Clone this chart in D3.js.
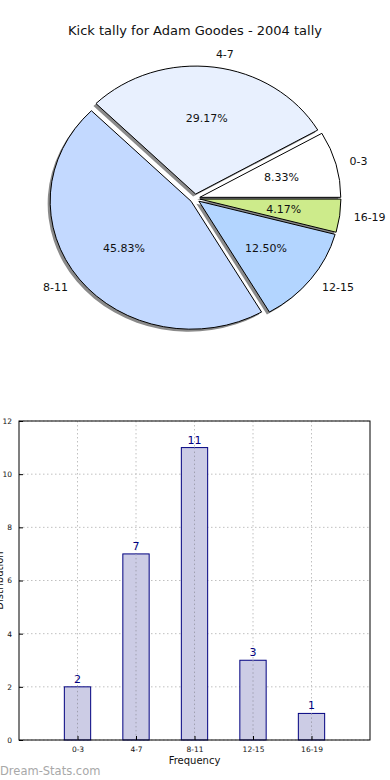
<!DOCTYPE html>
<html>
<head>
<meta charset="utf-8">
<script src="https://cdn.jsdelivr.net/npm/d3@7"></script>
<style>
  body { margin: 0; background: #fff; }
  svg { display: block; font-family: "DejaVu Sans", sans-serif; }
  .grid { stroke: #c0c0c0; stroke-dasharray: 1.5,2.5; stroke-width: 1; }
</style>
</head>
<body>
<svg id="chart" width="390" height="780"></svg>
<script>
// data
const categories = ["0-3", "4-7", "8-11", "12-15", "16-19"];
const counts = [2, 7, 11, 3, 1];
const pctLabels = ["8.33%", "29.17%", "45.83%", "12.50%", "4.17%"];
const sliceColors = ["#ffffff", "#e8f0fe", "#c3d9ff", "#b3d5ff", "#cdeb8b"];
const yTicks = [0, 2, 4, 6, 8, 10, 12];

let svg = d3.select("#chart");

svg.append("text")
  .attr("x", 195).attr("y", 35)
  .attr("text-anchor", "middle")
  .attr("font-size", 13)
  .attr("fill", "#111")
  .text("Kick tally for Adam Goodes - 2004 tally");

// ---- pie (matplotlib style: starts at 3 o'clock, goes counter clockwise)
const cx = 195, cy = 198.5, rx = 141, ry = 128, explode = 0.035;

let pie = d3.pie().sort(null)
  .startAngle(Math.PI / 2)
  .endAngle(Math.PI / 2 - 2 * Math.PI);
let arcs = pie(counts);
let arc = d3.arc().innerRadius(0).outerRadius(1);

function offset(d, k) {
  let mid = (d.startAngle + d.endAngle) / 2;
  return [Math.sin(mid) * k, -Math.cos(mid) * k];
}

let pieG = svg.append("g");

// shadows first
arcs.forEach((d) => {
  let o = offset(d, explode);
  pieG.append("path")
    .attr("d", arc(d))
    .attr("transform", "translate(" + (cx + o[0] * rx - 2.5) + "," + (cy + o[1] * ry + 2.5) + ") scale(" + rx + "," + ry + ")")
    .attr("fill", "#8a8a8a");
});

arcs.forEach((d, i) => {
  let o = offset(d, explode);
  pieG.append("path")
    .attr("d", arc(d))
    .attr("transform", "translate(" + (cx + o[0] * rx) + "," + (cy + o[1] * ry) + ") scale(" + rx + "," + ry + ")")
    .attr("fill", sliceColors[i])
    .attr("stroke", "#000")
    .attr("stroke-width", 1)
    .attr("vector-effect", "non-scaling-stroke");

  let lp = offset(d, explode + 1.1);
  pieG.append("text")
    .attr("x", cx + lp[0] * rx)
    .attr("y", cy + lp[1] * ry)
    .attr("dy", "0.35em")
    .attr("text-anchor", lp[0] < 0 ? "end" : "start")
    .attr("font-size", 11)
    .attr("fill", "#111")
    .text(categories[i]);

  let pp = offset(d, explode + 0.6);
  pieG.append("text")
    .attr("x", cx + pp[0] * rx)
    .attr("y", cy + pp[1] * ry)
    .attr("dy", "0.35em")
    .attr("text-anchor", "middle")
    .attr("font-size", 11)
    .attr("fill", "#111")
    .text(pctLabels[i]);
});

// ---- bar chart
const plotLeft = 19, plotRight = 370, plotTop = 421, plotBottom = 740;
let x = d3.scaleLinear().domain([0, categories.length + 1]).range([plotLeft, plotRight]);
let y = d3.scaleLinear().domain([0, 12]).range([plotBottom, plotTop]);

let barG = svg.append("g");

// grid
yTicks.forEach((t) => {
  barG.append("line").attr("class", "grid")
    .attr("x1", plotLeft).attr("x2", plotRight)
    .attr("y1", y(t)).attr("y2", y(t));
});
categories.forEach((c, i) => {
  barG.append("line").attr("class", "grid")
    .attr("x1", x(i + 1)).attr("x2", x(i + 1))
    .attr("y1", plotTop).attr("y2", plotBottom);
});

const barW = 0.45;
barG.selectAll("rect.bar").data(counts).enter().append("rect")
  .attr("class", "bar")
  .attr("x", (d, i) => x(i + 1 - barW / 2))
  .attr("width", x(barW) - x(0))
  .attr("y", (d) => y(d))
  .attr("height", (d) => y(0) - y(d))
  .attr("fill", "#cccce5")
  .attr("stroke", "#000080")
  .attr("stroke-width", 1);

// keep the dotted x grid visible over bars
categories.forEach((c, i) => {
  barG.append("line").attr("class", "grid")
    .attr("x1", x(i + 1)).attr("x2", x(i + 1))
    .attr("y1", y(counts[i])).attr("y2", plotBottom)
    .style("stroke", "#a0a0b0");
});

barG.selectAll("text.val").data(counts).enter().append("text")
  .attr("class", "val")
  .attr("x", (d, i) => x(i + 1))
  .attr("y", (d) => y(d) - 4)
  .attr("text-anchor", "middle")
  .attr("font-size", 11)
  .attr("fill", "#000080")
  .text((d) => d);

// frame
barG.append("rect")
  .attr("x", plotLeft).attr("y", plotTop)
  .attr("width", plotRight - plotLeft).attr("height", plotBottom - plotTop)
  .attr("fill", "none").attr("stroke", "#000").attr("stroke-width", 1);

// ticks
let yAxis = d3.axisLeft(y).tickValues(yTicks).tickSize(-4).tickPadding(7);
barG.append("g").attr("transform", "translate(" + plotLeft + ",0)").call(yAxis)
  .call((g) => g.select(".domain").remove())
  .call((g) => g.selectAll("text").attr("font-size", 7.5).attr("font-family", "DejaVu Sans").attr("fill", "#111"));

let xAxis = d3.axisBottom(x).tickValues(d3.range(1, categories.length + 1))
  .tickFormat((d) => categories[d - 1]).tickSize(-4).tickPadding(7);
barG.append("g").attr("transform", "translate(0," + plotBottom + ")").call(xAxis)
  .call((g) => g.select(".domain").remove())
  .call((g) => g.selectAll("text").attr("font-size", 7.5).attr("font-family", "DejaVu Sans").attr("fill", "#111"));

svg.append("text")
  .attr("x", x(3)).attr("y", 764)
  .attr("text-anchor", "middle")
  .attr("font-size", 10)
  .attr("fill", "#111")
  .text("Frequency");

svg.append("text")
  .attr("transform", "translate(3," + ((plotTop + plotBottom) / 2) + ") rotate(-90)")
  .attr("text-anchor", "middle")
  .attr("font-size", 10)
  .attr("fill", "#111")
  .text("Distribution");

svg.append("text")
  .attr("x", 0).attr("y", 775)
  .attr("font-size", 11.5)
  .attr("fill", "#a8a8a8")
  .text("Dream-Stats.com");
</script>
</body>
</html>
